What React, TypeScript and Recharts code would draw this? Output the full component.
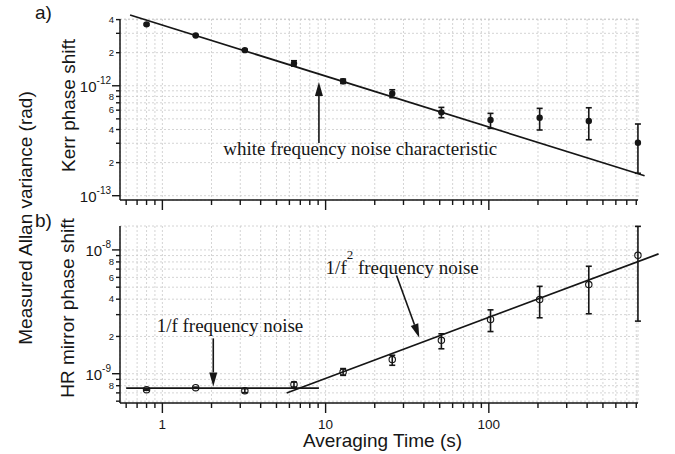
import React from 'react';
import {
  ComposedChart,
  Scatter,
  XAxis,
  YAxis,
  CartesianGrid,
  ErrorBar,
  ReferenceLine,
  ReferenceDot,
} from 'recharts';

// ---------- data ----------
const tau = [0.8, 1.6, 3.2, 6.4, 12.8, 25.6, 51.2, 102.4, 204.8, 409.6, 819.2];

const kerrValue = [3.62e-12, 2.87e-12, 2.11e-12, 1.6e-12, 1.1e-12, 8.5e-13, 5.73e-13, 4.88e-13, 5.12e-13, 4.78e-13, 3.03e-13];
const kerrLow = [3.55e-12, 2.82e-12, 2.07e-12, 1.51e-12, 1.05e-12, 7.8e-13, 5.12e-13, 4.1e-13, 3.96e-13, 3.23e-13, 1.6e-13];
const kerrHigh = [3.69e-12, 2.92e-12, 2.15e-12, 1.69e-12, 1.15e-12, 9.2e-13, 6.36e-13, 5.61e-13, 6.23e-13, 6.31e-13, 4.49e-13];

const hrValue = [7.43e-10, 7.71e-10, 7.3e-10, 8.2e-10, 1.03e-9, 1.3e-9, 1.86e-9, 2.74e-9, 3.97e-9, 5.25e-9, 9.04e-9];
const hrLow = [7.35e-10, 7.63e-10, 7.03e-10, 7.8e-10, 0.97e-9, 1.17e-9, 1.59e-9, 2.19e-9, 2.83e-9, 3.05e-9, 2.66e-9];
const hrHigh = [7.51e-10, 7.79e-10, 7.57e-10, 8.56e-10, 1.1e-9, 1.41e-9, 2.1e-9, 3.28e-9, 5.08e-9, 7.38e-9, 1.55e-8];

// fitted characteristics (end points)
const whiteFitTau = [0.634, 900];
const whiteFitValue = [4.4e-12, 1.52e-13];
const flickerFitTau = [0.6, 9.1];
const flickerFitValue = [7.65e-10, 7.65e-10];
const randomWalkFitTau = [5.77, 1096];
const randomWalkFitValue = [6.98e-10, 9.29e-9];

// ticks
const xTicks = [0.6, 0.7, 0.8, 0.9, 1, 2, 3, 4, 5, 6, 7, 8, 9, 10, 20, 30, 40, 50, 60, 70, 80, 90, 100, 200, 300, 400, 500, 600, 700, 800];
const xTickLabels = ['', '', '', '', '1', '', '', '', '', '', '', '', '', '10', '', '', '', '', '', '', '', '', '100', '', '', '', '', '', '', ''];

const kerrTicks = [1e-13, 2e-13, 3e-13, 4e-13, 5e-13, 6e-13, 7e-13, 8e-13, 9e-13, 1e-12, 2e-12, 3e-12, 4e-12];
const kerrTickLabels = ['10^-13', '2', '', '4', '', '6', '', '8', '', '10^-12', '2', '', '4'];

const hrTicks = [6e-10, 7e-10, 8e-10, 9e-10, 1e-9, 2e-9, 3e-9, 4e-9, 5e-9, 6e-9, 7e-9, 8e-9, 9e-9, 1e-8];
const hrTickLabels = ['', '', '8', '', '10^-9', '2', '', '4', '', '6', '', '8', '', '10^-8'];

// annotations (data coordinates)
const whiteText = 'white frequency noise characteristic';
const whiteTextAt = { x: 16.3, y: 2.37e-13 };
const whiteArrow = [{ x: 9.1, y: 3.01e-13 }, { x: 9.1, y: 1.08e-12 }];
const flickerText = '1/f frequency noise';
const flickerTextAt = { x: 2.595, y: 2.19e-9 };
const flickerArrow = [{ x: 2.05, y: 1.93e-9 }, { x: 2.05, y: 7.9e-10 }];
const rwTextAt = { x: 10.0, y: 6.44e-9 };
const rwArrow = [{ x: 27.2, y: 6.21e-9 }, { x: 37.5, y: 1.95e-9 }];

// ---------- derived tables ----------
const kerrData = tau.map((t, i) => ({
  x: t,
  y: kerrValue[i],
  err: [kerrValue[i] - kerrLow[i], kerrHigh[i] - kerrValue[i]],
}));
const hrData = tau.map((t, i) => ({
  x: t,
  y: hrValue[i],
  err: [hrValue[i] - hrLow[i], hrHigh[i] - hrValue[i]],
}));

const SANS = '"Liberation Sans", Arial, sans-serif';
const SERIF = '"Liberation Serif", "Times New Roman", serif';
const INK = '#161616';

const makeXTick = (showLabels: boolean) => (props: any) => {
  const { x, y, index } = props;
  const lab = xTickLabels[index] || '';
  const major = lab !== '';
  return (
    <g>
      <line x1={x} y1={y} x2={x} y2={y + (major ? 10 : 5)} stroke={INK} strokeWidth={1.4} />
      {showLabels && major && (
        <text x={x} y={y + 25.5} textAnchor="middle" fontSize={13.5} fontFamily={SANS} fill={INK}>
          {lab}
        </text>
      )}
    </g>
  );
};

const makeYTick = (labels: string[]) => (props: any) => {
  const { x, y, index } = props;
  const lab = labels[index] || '';
  const decade = lab.startsWith('10^');
  return (
    <g>
      <line x1={x} y1={y} x2={x - (decade ? 8 : 4)} y2={y} stroke={INK} strokeWidth={1.4} />
      {decade && (
        <text x={x - 9} y={y + 6.5} textAnchor="end" fontFamily={SANS} fill={INK}>
          <tspan fontSize={15}>10</tspan>
          <tspan fontSize={10} dy={-8.5}>{lab.slice(3)}</tspan>
        </text>
      )}
      {!decade && lab && (
        <text x={x - 6} y={y + 3.3} textAnchor="end" fontSize={9.5} fontFamily={SANS} fill={INK}>
          {lab}
        </text>
      )}
    </g>
  );
};

const arrowShape = (props: any) => {
  const { x1, y1, x2, y2 } = props;
  const dx = x2 - x1;
  const dy = y2 - y1;
  const len = Math.hypot(dx, dy) || 1;
  const ux = dx / len;
  const uy = dy / len;
  const head = 14;
  const half = 4;
  const bx = x2 - ux * head;
  const by = y2 - uy * head;
  const px = -uy * half;
  const py = ux * half;
  return (
    <g>
      <line x1={x1} y1={y1} x2={bx} y2={by} stroke={INK} strokeWidth={1.6} />
      <polygon points={`${x2},${y2} ${bx + px},${by + py} ${bx - px},${by - py}`} fill={INK} />
    </g>
  );
};

const fitShape = (props: any) => {
  const { x1, y1, x2, y2 } = props;
  return <line x1={x1} y1={y1} x2={x2} y2={y2} stroke={INK} strokeWidth={1.7} />;
};

const textShape = (text: string, anchor: 'start' | 'middle') => (props: any) => (
  <text x={props.cx} y={props.cy} textAnchor={anchor} fontSize={19} fontFamily={SERIF} fill={INK}>
    {text}
  </text>
);

const rwTextShape = (props: any) => (
  <text x={props.cx} y={props.cy} textAnchor="start" fontSize={19} fontFamily={SERIF} fill={INK}>
    <tspan>1/f</tspan>
    <tspan fontSize={13} dy={-15}>2</tspan>
    <tspan dy={15}> frequency noise</tspan>
  </text>
);

const filledDot = (props: any) => <circle cx={props.cx} cy={props.cy} r={3.2} fill={INK} />;
const openDot = (props: any) => (
  <circle cx={props.cx} cy={props.cy} r={3.2} fill="none" stroke={INK} strokeWidth={1.1} />
);

const X_DOMAIN: [number, number] = [0.55, 820];

export default function App() {
  return (
    <div style={{ position: 'absolute', left: 0, top: 0, width: 675, height: 454, background: '#fff' }}>
      {/* a) Kerr phase shift */}
      <div style={{ position: 'absolute', left: 0, top: 0 }}>
        <ComposedChart width={675} height={215} margin={{ top: 19, right: 37, bottom: 0, left: 0 }}>
          <CartesianGrid stroke="#c9c9c9" strokeDasharray="2 2" strokeWidth={0.8} />
          <XAxis
            dataKey="x"
            type="number"
            scale="log"
            domain={X_DOMAIN}
            ticks={xTicks}
            interval={0}
            height={15}
            tickSize={0}
            tickMargin={0}
            tickLine={false}
            tick={makeXTick(false)}
            axisLine={{ stroke: INK, strokeWidth: 1.5 }}
          />
          <YAxis
            dataKey="y"
            type="number"
            scale="log"
            domain={[9.14e-14, 4.05e-12]}
            ticks={kerrTicks}
            interval={0}
            width={120}
            tickSize={0}
            tickMargin={0}
            tickLine={false}
            tick={makeYTick(kerrTickLabels)}
            axisLine={{ stroke: INK, strokeWidth: 1.5 }}
          />
          <ReferenceLine
            segment={[{ x: whiteFitTau[0], y: whiteFitValue[0] }, { x: whiteFitTau[1], y: whiteFitValue[1] }]}
            ifOverflow="visible"
            shape={fitShape}
          />
          <Scatter data={kerrData} dataKey="y" shape={filledDot} isAnimationActive={false}>
            <ErrorBar dataKey="err" direction="y" width={3} stroke={INK} strokeWidth={1.6} isAnimationActive={false} />
          </Scatter>
          <ReferenceLine segment={whiteArrow} ifOverflow="visible" shape={arrowShape} />
          <ReferenceDot x={whiteTextAt.x} y={whiteTextAt.y} ifOverflow="visible" shape={textShape(whiteText, 'middle')} />
        </ComposedChart>
      </div>

      {/* b) HR mirror phase shift */}
      <div style={{ position: 'absolute', left: 0, top: 215 }}>
        <ComposedChart width={675} height={239} margin={{ top: 11, right: 37, bottom: 0, left: 0 }}>
          <CartesianGrid stroke="#c9c9c9" strokeDasharray="2 2" strokeWidth={0.8} />
          <XAxis
            dataKey="x"
            type="number"
            scale="log"
            domain={X_DOMAIN}
            ticks={xTicks}
            interval={0}
            height={51}
            tickSize={0}
            tickMargin={0}
            tickLine={false}
            tick={makeXTick(true)}
            axisLine={{ stroke: INK, strokeWidth: 1.5 }}
          />
          <YAxis
            dataKey="y"
            type="number"
            scale="log"
            domain={[5.8e-10, 1.56e-8]}
            ticks={hrTicks}
            interval={0}
            width={120}
            tickSize={0}
            tickMargin={0}
            tickLine={false}
            tick={makeYTick(hrTickLabels)}
            axisLine={{ stroke: INK, strokeWidth: 1.5 }}
          />
          <ReferenceLine
            segment={[{ x: flickerFitTau[0], y: flickerFitValue[0] }, { x: flickerFitTau[1], y: flickerFitValue[1] }]}
            ifOverflow="visible"
            shape={fitShape}
          />
          <ReferenceLine
            segment={[{ x: randomWalkFitTau[0], y: randomWalkFitValue[0] }, { x: randomWalkFitTau[1], y: randomWalkFitValue[1] }]}
            ifOverflow="visible"
            shape={fitShape}
          />
          <Scatter data={hrData} dataKey="y" shape={openDot} isAnimationActive={false}>
            <ErrorBar dataKey="err" direction="y" width={3} stroke={INK} strokeWidth={1.6} isAnimationActive={false} />
          </Scatter>
          <ReferenceLine segment={flickerArrow} ifOverflow="visible" shape={arrowShape} />
          <ReferenceLine segment={rwArrow} ifOverflow="visible" shape={arrowShape} />
          <ReferenceDot x={flickerTextAt.x} y={flickerTextAt.y} ifOverflow="visible" shape={textShape(flickerText, 'middle')} />
          <ReferenceDot x={rwTextAt.x} y={rwTextAt.y} ifOverflow="visible" shape={rwTextShape} />
        </ComposedChart>
      </div>

      {/* titles */}
      <svg
        width={675}
        height={454}
        style={{ position: 'absolute', left: 0, top: 0, pointerEvents: 'none' }}
        fontFamily={SANS}
        fill={INK}
      >
        <text x={35} y={19} fontSize={19}>a)</text>
        <text x={35} y={227} fontSize={19}>b)</text>
        <text x={31.5} y={218} fontSize={19} textAnchor="middle" transform="rotate(-90 31.5 218)">
          Measured Allan variance (rad)
        </text>
        <text x={75} y={105.5} fontSize={19} textAnchor="middle" transform="rotate(-90 75 105.5)">
          Kerr phase shift
        </text>
        <text x={74} y={308} fontSize={19} textAnchor="middle" transform="rotate(-90 74 308)">
          HR mirror phase shift
        </text>
        <text x={382.5} y={447} fontSize={19} textAnchor="middle">
          Averaging Time (s)
        </text>
      </svg>
    </div>
  );
}
